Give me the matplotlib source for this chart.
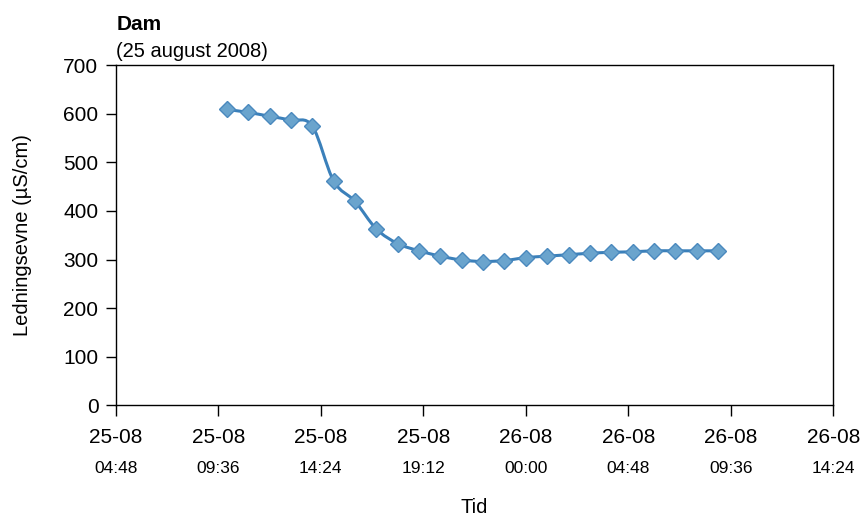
import numpy as np
import matplotlib
matplotlib.use("Agg")
import matplotlib.pyplot as plt
from matplotlib.path import Path
from matplotlib.patches import PathPatch
from matplotlib.transforms import blended_transform_factory

plt.rcParams['font.family'] = ['Liberation Sans', 'DejaVu Sans']

# hours counted from 25-08 00:00, one sample per hour (10:00 -> 09:00 next day)
hours = list(range(10, 34))
ledningsevne = [609, 603, 595, 587, 575, 462, 420, 363, 333, 318, 307, 299,
                296, 298, 304, 307, 310, 313, 315, 316, 318, 318, 318, 318]

tick_hours = [4.8, 9.6, 14.4, 19.2, 24.0, 28.8, 33.6, 38.4]
tick_dates = ["25-08", "25-08", "25-08", "25-08", "26-08", "26-08", "26-08", "26-08"]
tick_times = ["04:48", "09:36", "14:24", "19:12", "00:00", "04:48", "09:36", "14:24"]

line_col = "#3b80ba"
fill_col = "#6aa4cd"
edge_col = "#4a89be"


# smoothed line (like a spreadsheet "smooth line"), drawn as bezier segments
def smooth_path(x, y):
    x = np.asarray(x, float)
    y = np.asarray(y, float)
    verts = [(x[0], y[0])]
    codes = [Path.MOVETO]
    n = len(x)
    for i in range(n - 1):
        p0 = np.array([x[max(i - 1, 0)], y[max(i - 1, 0)]])
        p1 = np.array([x[i], y[i]])
        p2 = np.array([x[i + 1], y[i + 1]])
        p3 = np.array([x[min(i + 2, n - 1)], y[min(i + 2, n - 1)]])
        c1 = p1 + (p2 - p0) / 6.0
        c2 = p2 - (p3 - p1) / 6.0
        verts += [tuple(c1), tuple(c2), tuple(p2)]
        codes += [Path.CURVE4, Path.CURVE4, Path.CURVE4]
    return Path(verts, codes)


fig = plt.figure(figsize=(8.64, 5.18), dpi=100)
ax = fig.add_axes([0.134, 0.2176, 0.8305, 0.6564])

ax.add_patch(PathPatch(smooth_path(hours, ledningsevne), facecolor="none",
                       edgecolor=line_col, lw=2.2, zorder=2))
ax.plot(hours, ledningsevne, linestyle="none", marker="D", markersize=8.3,
        markerfacecolor=fill_col, markeredgecolor=edge_col, markeredgewidth=1,
        zorder=3)

ax.set_xlim(4.8, 38.4)
ax.set_ylim(0, 700)
ax.set_yticks(range(0, 701, 100))
ax.set_xticks(tick_hours)
ax.set_xticklabels(tick_dates)

ax.tick_params(axis="y", direction="out", length=7.5, width=1, labelsize=15, pad=5)
ax.tick_params(axis="x", direction="out", length=8, width=1, labelsize=15, pad=8)
for sp in ax.spines.values():
    sp.set_linewidth(1)

# second line of the x tick labels (time of day, smaller)
trans = blended_transform_factory(ax.transData, ax.transAxes)
for h, t in zip(tick_hours, tick_times):
    ax.text(h, -0.2, t, transform=trans, ha="center", va="baseline", fontsize=12.5)

ax.set_xlabel("Tid", fontsize=14.5)
ax.xaxis.set_label_coords(0.5, -0.2726)
ax.set_ylabel("Ledningsevne (µS/cm)", fontsize=14.5)
ax.yaxis.set_label_coords(-0.1166, 0.5)

fig.text(117 / 864, 1 - 30 / 518, "Dam", fontsize=15, fontweight="bold",
         ha="left", va="baseline")
fig.text(116 / 864, 1 - 57 / 518, "(25 august 2008)", fontsize=14.5,
         ha="left", va="baseline")

fig.savefig("out.png", dpi=100)
